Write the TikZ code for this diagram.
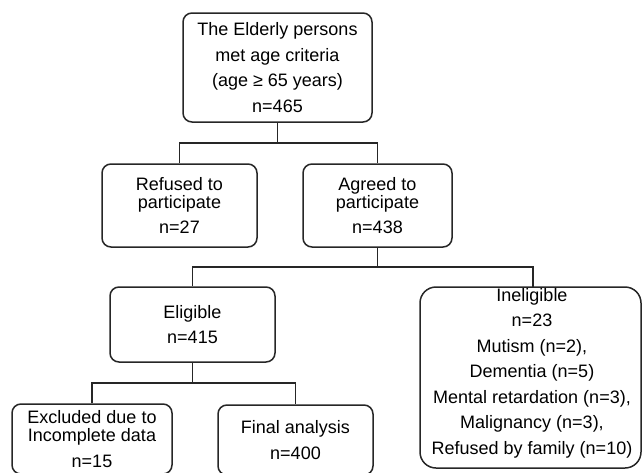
\documentclass[tikz,border=0pt]{standalone}
\usepackage{fontspec}
\setmainfont{Liberation Sans}
\begin{document}
\begin{tikzpicture}[x=1pt,y=-1pt,
  box/.style={draw=black!85,line width=1.5pt,rounded corners=9pt,align=center,
    inner sep=0pt,text=black,font=\fontsize{18}{25.5}\selectfont},
  conn/.style={draw=black!85,line width=1.5pt}]
\useasboundingbox (0,0) rectangle (643,472);
\node[box,minimum width=189pt,minimum height=109pt] (top) at (277.5,67.5)
  {The Elderly persons\\met age criteria\\(age ≥ 65 years)\\n=465};
\node[box,minimum width=155pt,minimum height=83pt] (ref) at (179.5,205.5)
  {Refused to\\[-7.5pt]participate\\n=27};
\node[box,minimum width=149pt,minimum height=83pt] (agr) at (377.5,205.5)
  {Agreed to\\[-7.5pt]participate\\n=438};
\node[box,minimum width=165pt,minimum height=75pt] (eli) at (192.5,324.5)
  {Eligible\\n=415};
\node[box,rounded corners=16pt,minimum width=221pt,minimum height=181pt] (inel) at (530.5,377.5) {};
\node[align=center,inner sep=0pt,text=black,font=\fontsize{18}{25.5}\selectfont] (inelt) at (532,373)
  {Ineligible\\n=23\\Mutism (n=2),\\Dementia (n=5)\\Mental retardation (n=3),\\Malignancy (n=3),\\Refused by family (n=10)};
\node[box,minimum width=160pt,minimum height=70pt] (exc) at (92,439)
  {Excluded due to\\[-7.5pt]Incomplete data\\n=15};
\node[box,minimum width=155pt,minimum height=70pt] (fin) at (295.5,440)
  {Final analysis\\n=400};
\coordinate (j1) at (277.5,143);
\coordinate (j2) at (377.5,267);
\coordinate (j3) at (192.5,383);
\coordinate (it) at (533,287);
\draw[conn] (top.south) -- (j1);
\draw[conn] (ref.north) -- (ref.north |- j1) -- (agr.north |- j1) -- (agr.north);
\draw[conn] (agr.south) -- (j2);
\draw[conn] (eli.north) -- (eli.north |- j2) -- (it |- j2) -- (it);
\draw[conn] (eli.south) -- (j3);
\draw[conn] (exc.north) -- (exc.north |- j3) -- (fin.north |- j3) -- (fin.north);
\end{tikzpicture}
\end{document}
